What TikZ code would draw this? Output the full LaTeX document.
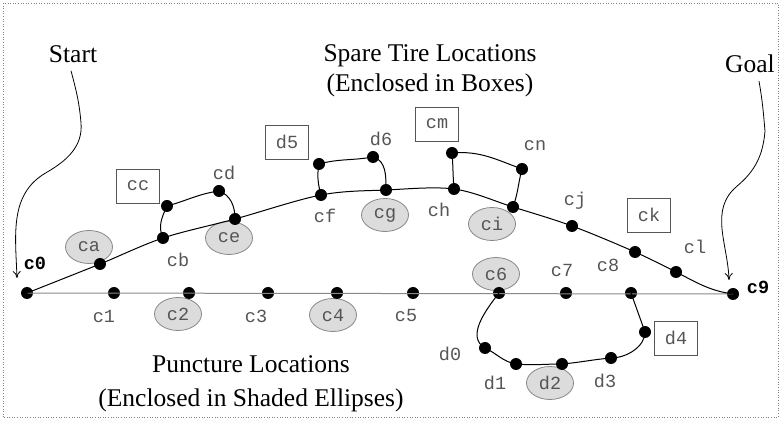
\documentclass[tikz,border=0pt]{standalone}
\usepackage{fontspec}
\setmainfont{Liberation Serif}
\setmonofont{Liberation Mono}
\usetikzlibrary{arrows.meta,shapes.geometric}
\definecolor{lbl}{HTML}{555555}
\definecolor{ellfill}{HTML}{DCDCDC}
\definecolor{hline}{HTML}{888888}
\begin{document}
\begin{tikzpicture}[x=1pt,y=1pt,
  dot/.style={circle,fill=black,inner sep=0pt,minimum size=12pt},
  lab/.style={font=\fontsize{18.5}{20}\selectfont\ttfamily,text=lbl,inner sep=0pt},
  boldlab/.style={font=\fontsize{18.5}{20}\selectfont\ttfamily\bfseries,inner sep=0pt},
  spare/.style={lab,draw=lbl,line width=0.8pt,minimum width=43pt,minimum height=34pt},
  punct/.style={lab,ellipse,draw=hline,line width=0.8pt,fill=ellfill,minimum width=47pt,minimum height=33pt},
  titletext/.style={font=\fontsize{25.5}{30}\selectfont,align=center,inner sep=0pt},
  route/.style={line width=1pt},
  pointer/.style={line width=0.8pt,-{To[length=7pt,width=8pt]}}]
\useasboundingbox (0,0) rectangle (781,420);
\draw[dotted,gray,line width=0.6pt] (3,3) rectangle (778,417);

% titles
\node[titletext] (t1) at (430,349) {Spare Tire Locations\\(Enclosed in Boxes)};
\node[titletext,font=\fontsize{25.5}{34}\selectfont] (t2) at (251,36) {Puncture Locations\\(Enclosed in Shaded Ellipses)};
\node[titletext] (start) at (73,366) {Start};
\node[titletext] (goal) at (750,356) {Goal};

% shaded ellipses (punctures)
\node[punct] (eca) at (89,173) {ca};
\node[punct] (ece) at (229,182) {ce};
\node[punct] (ecg) at (385,205) {cg};
\node[punct] (eci) at (492,196) {ci};
\node[punct] (ec2) at (178,106) {c2};
\node[punct] (ec4) at (333,105) {c4};
\node[punct] (ec6) at (496,146) {c6};
\node[punct] (ed2) at (550,37) {d2};

% boxes (spare tires)
\node[spare] (bcc) at (138,234) {cc};
\node[spare] (bd5) at (287,278) {d5};
\node[spare] (bcm) at (437,296) {cm};
\node[spare] (bck) at (649,205) {ck};
\node[spare] (bd4) at (676,82) {d4};

% plain labels
\node[boldlab] (lc0) at (35,157) {c0};
\node[boldlab] (lc9) at (758,133) {c9};
\node[lab] (lc1) at (104,104) {c1};
\node[lab] (lc3) at (256,104) {c3};
\node[lab] (lc5) at (406,105) {c5};
\node[lab] (lc7) at (562,150) {c7};
\node[lab] (lc8) at (608,155) {c8};
\node[lab] (lcb) at (178,160) {cb};
\node[lab] (lcd) at (224,247) {cd};
\node[lab] (lcf) at (325,204) {cf};
\node[lab] (ld6) at (381,281) {d6};
\node[lab] (lch) at (439,210) {ch};
\node[lab] (lcn) at (535,274) {cn};
\node[lab] (lcj) at (575,219) {cj};
\node[lab] (lcl) at (695,173) {cl};
\node[lab] (ld0) at (450,66) {d0};
\node[lab] (ld1) at (495,37) {d1};
\node[lab] (ld3) at (605,39) {d3};

% dots: straight route
\node[dot] (c0) at (27,127) {};
\node[dot] (c1) at (114,127) {};
\node[dot] (c2) at (189,127) {};
\node[dot] (c3) at (268,127) {};
\node[dot] (c4) at (337,127) {};
\node[dot] (c5) at (413,127) {};
\node[dot] (c6) at (499,127) {};
\node[dot] (c7) at (566,127) {};
\node[dot] (c8) at (631,127) {};
\node[dot] (c9) at (733,126) {};
% dots: upper route
\node[dot] (ca) at (100,156) {};
\node[dot] (cb) at (163,182) {};
\node[dot] (cc) at (167,214) {};
\node[dot] (cd) at (219,229) {};
\node[dot] (ce) at (235,201) {};
\node[dot] (cf) at (321,225) {};
\node[dot] (d5) at (319,256) {};
\node[dot] (d6) at (373,263) {};
\node[dot] (cg) at (386,230) {};
\node[dot] (ch) at (454,231) {};
\node[dot] (cm) at (452,267) {};
\node[dot] (cn) at (522,251) {};
\node[dot] (ci) at (513,213) {};
\node[dot] (cj) at (572,194) {};
\node[dot] (ck) at (635,168) {};
\node[dot] (cl) at (676,148) {};
% dots: lower detour
\node[dot] (d0) at (485,72) {};
\node[dot] (d1) at (516,56) {};
\node[dot] (d2) at (562,56) {};
\node[dot] (d3) at (611,62) {};
\node[dot] (d4) at (645,88) {};

% straight route
\draw[hline,line width=1pt] (c0.center) -- (c9.center);

% upper route
\draw[route] plot[smooth,tension=0.55] coordinates {(c0.center) (ca.center) (cb.center) (ce.center) (cf.center) (cg.center) (ch.center) (ci.center) (cj.center) (ck.center) (cl.center)}
  to[out=-27,in=172] (c9.center);

% detours
\draw[route] (cb.center) to[out=115,in=-115] (cc.center) to[out=15,in=188] (cd.center) to[out=-20,in=90] (ce.center);
\draw[route] (cf.center) to[out=105,in=-100] (d5.center) to[out=15,in=190] (d6.center) to[out=-15,in=90] (cg.center);
\draw[route] (ch.center) to[out=95,in=-85] (cm.center) to[out=5,in=160] (cn.center) to[out=-105,in=70] (ci.center);
\draw[route] (c6.center) to[out=-128,in=150] (d0.center) to[out=-25,in=170] (d1.center) to[out=-5,in=180] (d2.center) to[out=5,in=185] (d3.center) to[out=0,in=-90,looseness=0.9] (d4.center) -- (c8.center);

% start / goal pointers
\coordinate (starttip) at (17,142);
\coordinate (goaltip) at (729,140);
\draw[pointer] (start.south) ++(-2,-8) to[out=-75,in=95] ++(10,-52) to[out=-85,in=30] ++(-35,-50) to[out=-150,in=92] (starttip);
\draw[pointer] (goal.south) ++(9,-8) to[out=-80,in=95] ++(6,-50) to[out=-95,in=40] ++(-28,-55) to[out=-140,in=92] (goaltip);
\end{tikzpicture}
\end{document}
